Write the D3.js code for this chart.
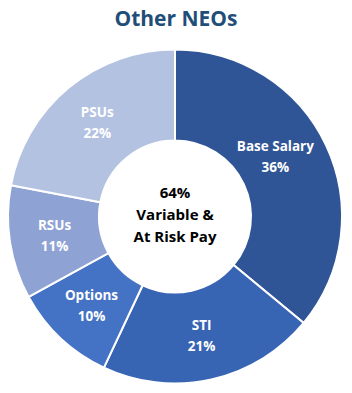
<!DOCTYPE html>
<html><head><meta charset="utf-8">
<script src="https://cdn.jsdelivr.net/npm/d3@7"></script>
<style>html,body{margin:0;padding:0;background:#fff;}svg{display:block;}</style>
</head><body>
<svg id="chart" width="352" height="393"></svg>
<script>
const title = "Other NEOs";
const categories = ["Base Salary", "STI", "Options", "RSUs", "PSUs"];
const values = [36, 21, 10, 11, 22];
const colors = ["#2F5597", "#3864B4", "#4472C4", "#8FA2D4", "#B4C2E2"];
const centerLines = ["64%", "Variable &", "At Risk Pay"];

const svg = d3.select("#chart");
const cx = 175, cy = 216.5, rOuter = 167, rInner = 76;
const font = "'Open Sans', 'Liberation Sans', sans-serif";

svg.append("text").attr("x", 176).attr("y", 26).attr("text-anchor", "middle")
  .attr("font-family", font).attr("font-weight", 700).attr("font-size", 21)
  .attr("fill", "#1F4E79").text(title);

const data = categories.map((c, i) => ({cat: c, val: values[i], color: colors[i]}));
const pie = d3.pie().value(d => d.val).sort(null);
const arc = d3.arc().innerRadius(rInner).outerRadius(rOuter);
const arcs = pie(data);

const g = svg.append("g").attr("transform", `translate(${cx},${cy})`);
g.selectAll("path").data(arcs).join("path")
  .attr("d", arc).attr("fill", d => d.data.color)
  .attr("stroke", "#fff").attr("stroke-width", 2);

// label placement: centroid at radius 122, wide label pulled inward to fit the ring
const labelR = 122;
function labelPos(d) {
  const a = (d.startAngle + d.endAngle) / 2;
  let x = Math.sin(a) * labelR, y = -Math.cos(a) * labelR;
  if (d.index === 0) { x -= 10; y -= 8; }
  return [x, y];
}
const labels = g.selectAll("g.lbl").data(arcs).join("g").attr("class", "lbl")
  .attr("transform", d => `translate(${labelPos(d)})`);
labels.append("text").attr("text-anchor", "middle").attr("y", -5.5)
  .attr("font-family", font).attr("font-weight", 700).attr("font-size", 13.5)
  .attr("fill", "#fff").text(d => d.data.cat);
labels.append("text").attr("text-anchor", "middle").attr("y", 15.5)
  .attr("font-family", font).attr("font-weight", 700).attr("font-size", 13.5)
  .attr("fill", "#fff").text(d => d.data.val + "%");

g.selectAll("text.center").data(centerLines).join("text").attr("class", "center")
  .attr("text-anchor", "middle").attr("y", (d, i) => -19 + i * 22)
  .attr("font-family", font).attr("font-weight", 700).attr("font-size", 15)
  .attr("fill", "#000").text(d => d);
</script>
</body></html>
